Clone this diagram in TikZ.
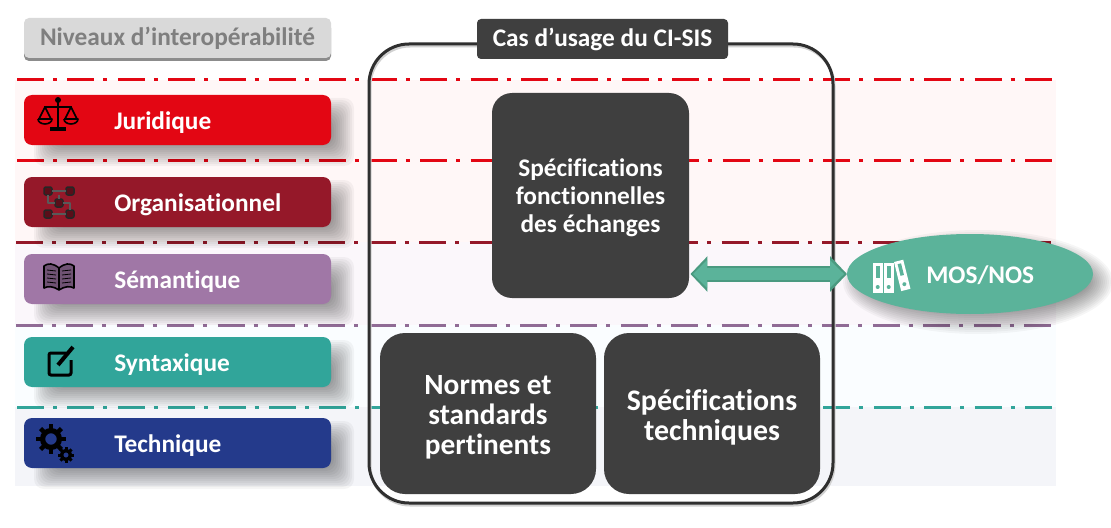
\documentclass[tikz,border=0pt]{standalone}
\usepackage{fontspec}
\setmainfont[Ligatures=NoCommon]{Carlito}
\usetikzlibrary{calc,arrows.meta,shapes.geometric}
\newdimen\px \px=0.75pt
\definecolor{cjur}{HTML}{E30613}
\definecolor{corg}{HTML}{951829}
\definecolor{csem}{HTML}{A077A6}
\definecolor{csyn}{HTML}{31A59A}
\definecolor{ctec}{HTML}{243A8B}
\definecolor{cdark}{HTML}{3F3F3F}
\definecolor{cmos}{HTML}{5BB39A}
\definecolor{cmosd}{HTML}{4A9A80}
\definecolor{cline}{HTML}{2F2F2F}
\definecolor{ctitle}{HTML}{D9D9D9}
\definecolor{ctitlet}{HTML}{7F7F7F}
\newcommand{\softshadow}[4]{%
  \foreach \d in {-12,-10,...,14}{
    \fill[black,opacity=0.04,rounded corners=10\px]
      ({#1-\d},{#2-\d}) rectangle ({#3+\d},{#4+\d});
  }}
\newcommand{\gearicon}[4]{%
  \foreach \a in {0,45,...,315}{
    \draw[black,line width=#4*1\px] ($(#1,#2)+(\a:#3*0.7)$) -- ($(#1,#2)+(\a:#3*1.05)$);
  }
  \draw[black,line width=#4*1.15\px] (#1,#2) circle ({#3*0.6});
}
\tikzset{
  x=0.75pt,y=-0.75pt,
  lvlbox/.style={rounded corners=8\px,minimum width=307\px,minimum height=50\px,inner sep=0pt,outer sep=0pt,anchor=north west},
  lvltext/.style={anchor=west,inner sep=0pt,text=white,font=\fontsize{19}{22}\selectfont\bfseries},
  darkbox/.style={fill=cdark,inner sep=0pt,outer sep=0pt,anchor=north west},
  darktext/.style={inner sep=0pt,align=center,text=white},
  dashln/.style={line width=3\px,dash pattern=on 27\px off 9\px on 4\px off 10.4\px},
  icn/.style={black,line width=1.6\px,line join=round},
}
\begin{document}
\begin{tikzpicture}
\useasboundingbox (0,0) rectangle (1111,528);
\fill[white] (0,0) rectangle (1111,528);
% bands
\fill[red!3!white] (15,80) rectangle (1056,242);
\fill[violet!3!white] (15,242) rectangle (1056,325);
\fill[cyan!2!white] (15,325) rectangle (1056,407);
\fill[ctec!5!white] (15,407) rectangle (1056,486);
% dash-dot lines
\coordinate (a1) at (17,80);  \coordinate (b1) at (1056,80);
\coordinate (a2) at (17,160); \coordinate (b2) at (1056,160);
\coordinate (a3) at (16,242); \coordinate (b3) at (1056,242);
\coordinate (a4) at (16,325); \coordinate (b4) at (1056,325);
\coordinate (a5) at (17,407); \coordinate (b5) at (1056,407);
\draw[dashln,draw=cjur] (a1) -- (b1);
\draw[dashln,draw=cjur] (a2) -- (b2);
\draw[dashln,draw=corg] (a3) -- (b3);
\draw[dashln,draw=csem!90!black] (a4) -- (b4);
\draw[dashln,draw=csyn] (a5) -- (b5);
% shadows of the level boxes
\softshadow{48}{112}{340}{152}
\softshadow{48}{194}{340}{234}
\softshadow{48}{271}{340}{311}
\softshadow{48}{354}{340}{394}
\softshadow{48}{435}{340}{475}
\foreach \d in {-14,-12,...,12}{
  \fill[black,opacity=0.035] (978,282) ellipse ({123+\d} and {40+\d});
}
% title of levels
\fill[black!45,rounded corners=5\px] (24,23) rectangle (331,61);
\node[fill=ctitle,rounded corners=5\px,minimum width=307\px,minimum height=40\px,inner sep=0pt,outer sep=0pt,anchor=north west,
      text=ctitlet,font=\fontsize{19}{22}\selectfont\bfseries] (lvl) at (24,18) {Niveaux d’interopérabilité};
% level boxes
\node[lvlbox,fill=cjur] (jur) at (24,95) {};
\node[lvlbox,fill=corg] (org) at (24,177) {};
\node[lvlbox,fill=csem] (sem) at (24,254) {};
\node[lvlbox,fill=csyn] (syn) at (24,337) {};
\node[lvlbox,fill=ctec] (tec) at (24,418) {};
\node[lvltext] (jurt) at ($(jur.west)+(90,2.5)$) {Juridique};
\node[lvltext] (orgt) at ($(org.west)+(90,2.5)$) {Organisationnel};
\node[lvltext] (semt) at ($(sem.west)+(90,2.5)$) {Sémantique};
\node[lvltext] (synt) at ($(syn.west)+(90,2.5)$) {Syntaxique};
\node[lvltext] (tect) at ($(tec.west)+(90,2.5)$) {Technique};
% icon: scales
\draw[icn,line width=2\px] (58,101) -- (58,127);
\fill[black] (58,100) circle (3);
\draw[icn] (44,107) -- (72,107);
\draw[icn] (45,107) -- (39,119) -- (51,119) -- cycle;
\draw[icn] (71,107) -- (65,119) -- (77,119) -- cycle;
\draw[icn] (38,119) -- (52,119) arc[start angle=0,end angle=180,x radius=7,y radius=5];
\draw[icn] (64,119) -- (78,119) arc[start angle=0,end angle=180,x radius=7,y radius=5];
\fill[black] (50,127) rectangle (66,131.5);
% icon: network
\foreach \cx/\cy in {48/191,70/191,48/214,70/214,59/203}{
  \draw[black!85,line width=1.5\px,fill=corg!60!black,rounded corners=2\px] (\cx-4,\cy-4) rectangle (\cx+4,\cy+4);
}
\draw[icn,black!65,line width=1.2\px] (52,191) -- (66,191) (48,195) -- (48,203) -- (55,203) (63,203) -- (70,203) -- (70,210) (52,214) -- (66,214) (59,199) -- (59,195);
% icon: book
\draw[icn,line width=1.6\px,fill=csem!70!black] (59,268) .. controls (53,263) and (48,263) .. (44,266) -- (44,288) .. controls (48,286) and (53,286) .. (59,290) .. controls (65,286) and (70,286) .. (74,288) -- (74,266) .. controls (70,263) and (65,263) .. (59,268) -- cycle;
\draw[icn] (59,268) -- (59,290);
\foreach \yy in {271,275,279,283}{
  \draw[black,line width=.8\px] (47,\yy-1) -- (56,\yy) (62,\yy) -- (71,\yy-1);
}
% icon: pencil in square
\draw[black,line width=3\px,rounded corners=2\px] (66,353) -- (49,353) -- (49,375) -- (71,375) -- (71,360);
\draw[black,line width=4\px] (58,365) -- (73,347);
% icon: gears
\gearicon{51}{439}{14}{4.5}
\gearicon{66}{455}{7.5}{3}
% container
\draw[black!18,line width=3\px,rounded corners=40\px] (370,46) rectangle (834,505);
\node[draw=cline,line width=3\px,rounded corners=40\px,minimum width=464\px,minimum height=459\px,inner sep=0pt,outer sep=0pt,anchor=north west] (cadre) at (369,44) {};
\node[fill=cdark,rounded corners=4\px,minimum width=251\px,minimum height=40\px,inner sep=0pt,outer sep=0pt,text=white,anchor=north west,
      font=\fontsize{19}{22}\selectfont\bfseries] (cas) at (477,19) {Cas d’usage du CI-SIS};
% dark boxes
\node[darkbox,rounded corners=20\px,minimum width=197\px,minimum height=205\px] (spec) at (492,93) {};
\node[darkbox,rounded corners=25\px,minimum width=216\px,minimum height=161\px] (norm) at (380,333) {};
\node[darkbox,rounded corners=25\px,minimum width=216\px,minimum height=161\px] (tech) at (604,333) {};
\node[darktext,font=\fontsize{19}{21}\selectfont\bfseries] (spect) at ($(spec.center)+(0,2)$) {Spécifications\\fonctionnelles\\des échanges};
\node[darktext,font=\fontsize{22}{22.5}\selectfont\bfseries] (normt) at ($(norm.center)+(0,4)$) {Normes et\\standards\\pertinents};
\node[darktext,font=\fontsize{22.4}{22.5}\selectfont\bfseries] (techt) at ($(tech.center)+(0,3.5)$) {Spécifications\\techniques};
% MOS/NOS
\node[ellipse,fill=cmos,minimum width=246\px,minimum height=80\px,inner sep=0pt,outer sep=0pt] (mos) at (970,274) {};
\node[anchor=west,inner sep=0pt,text=white,font=\fontsize{19}{22}\selectfont\bfseries] (most) at (926,275) {MOS/NOS};
% arrow
\draw[cmosd,line width=12pt,{Triangle[length=12.75pt,width=26pt]}-{Triangle[length=12.75pt,width=26pt]},shorten <=1.1pt,shorten >=0pt]
  (spec.east |- mos) -- (mos.west);
\draw[cmos,line width=9pt,{Triangle[length=10.5pt,width=20pt]}-{Triangle[length=10.5pt,width=20pt]},shorten <=3pt,shorten >=2.2pt]
  (spec.east |- mos) -- (mos.west);
% icon: folders
\foreach \xx in {873,884}{
  \fill[white] (\xx,263) rectangle (\xx+9.5,293);
  \fill[cmos] (\xx+3,266) rectangle (\xx+6.5,278);
  \fill[cmos] (\xx+4.7,287) circle (2);
}
\begin{scope}[shift={(894,262)},rotate=14]
  \fill[white] (0,0) rectangle (9.5,30);
  \fill[cmos] (3,3) rectangle (6.5,15);
  \fill[cmos] (4.7,24) circle (2);
\end{scope}
\end{tikzpicture}
\end{document}
